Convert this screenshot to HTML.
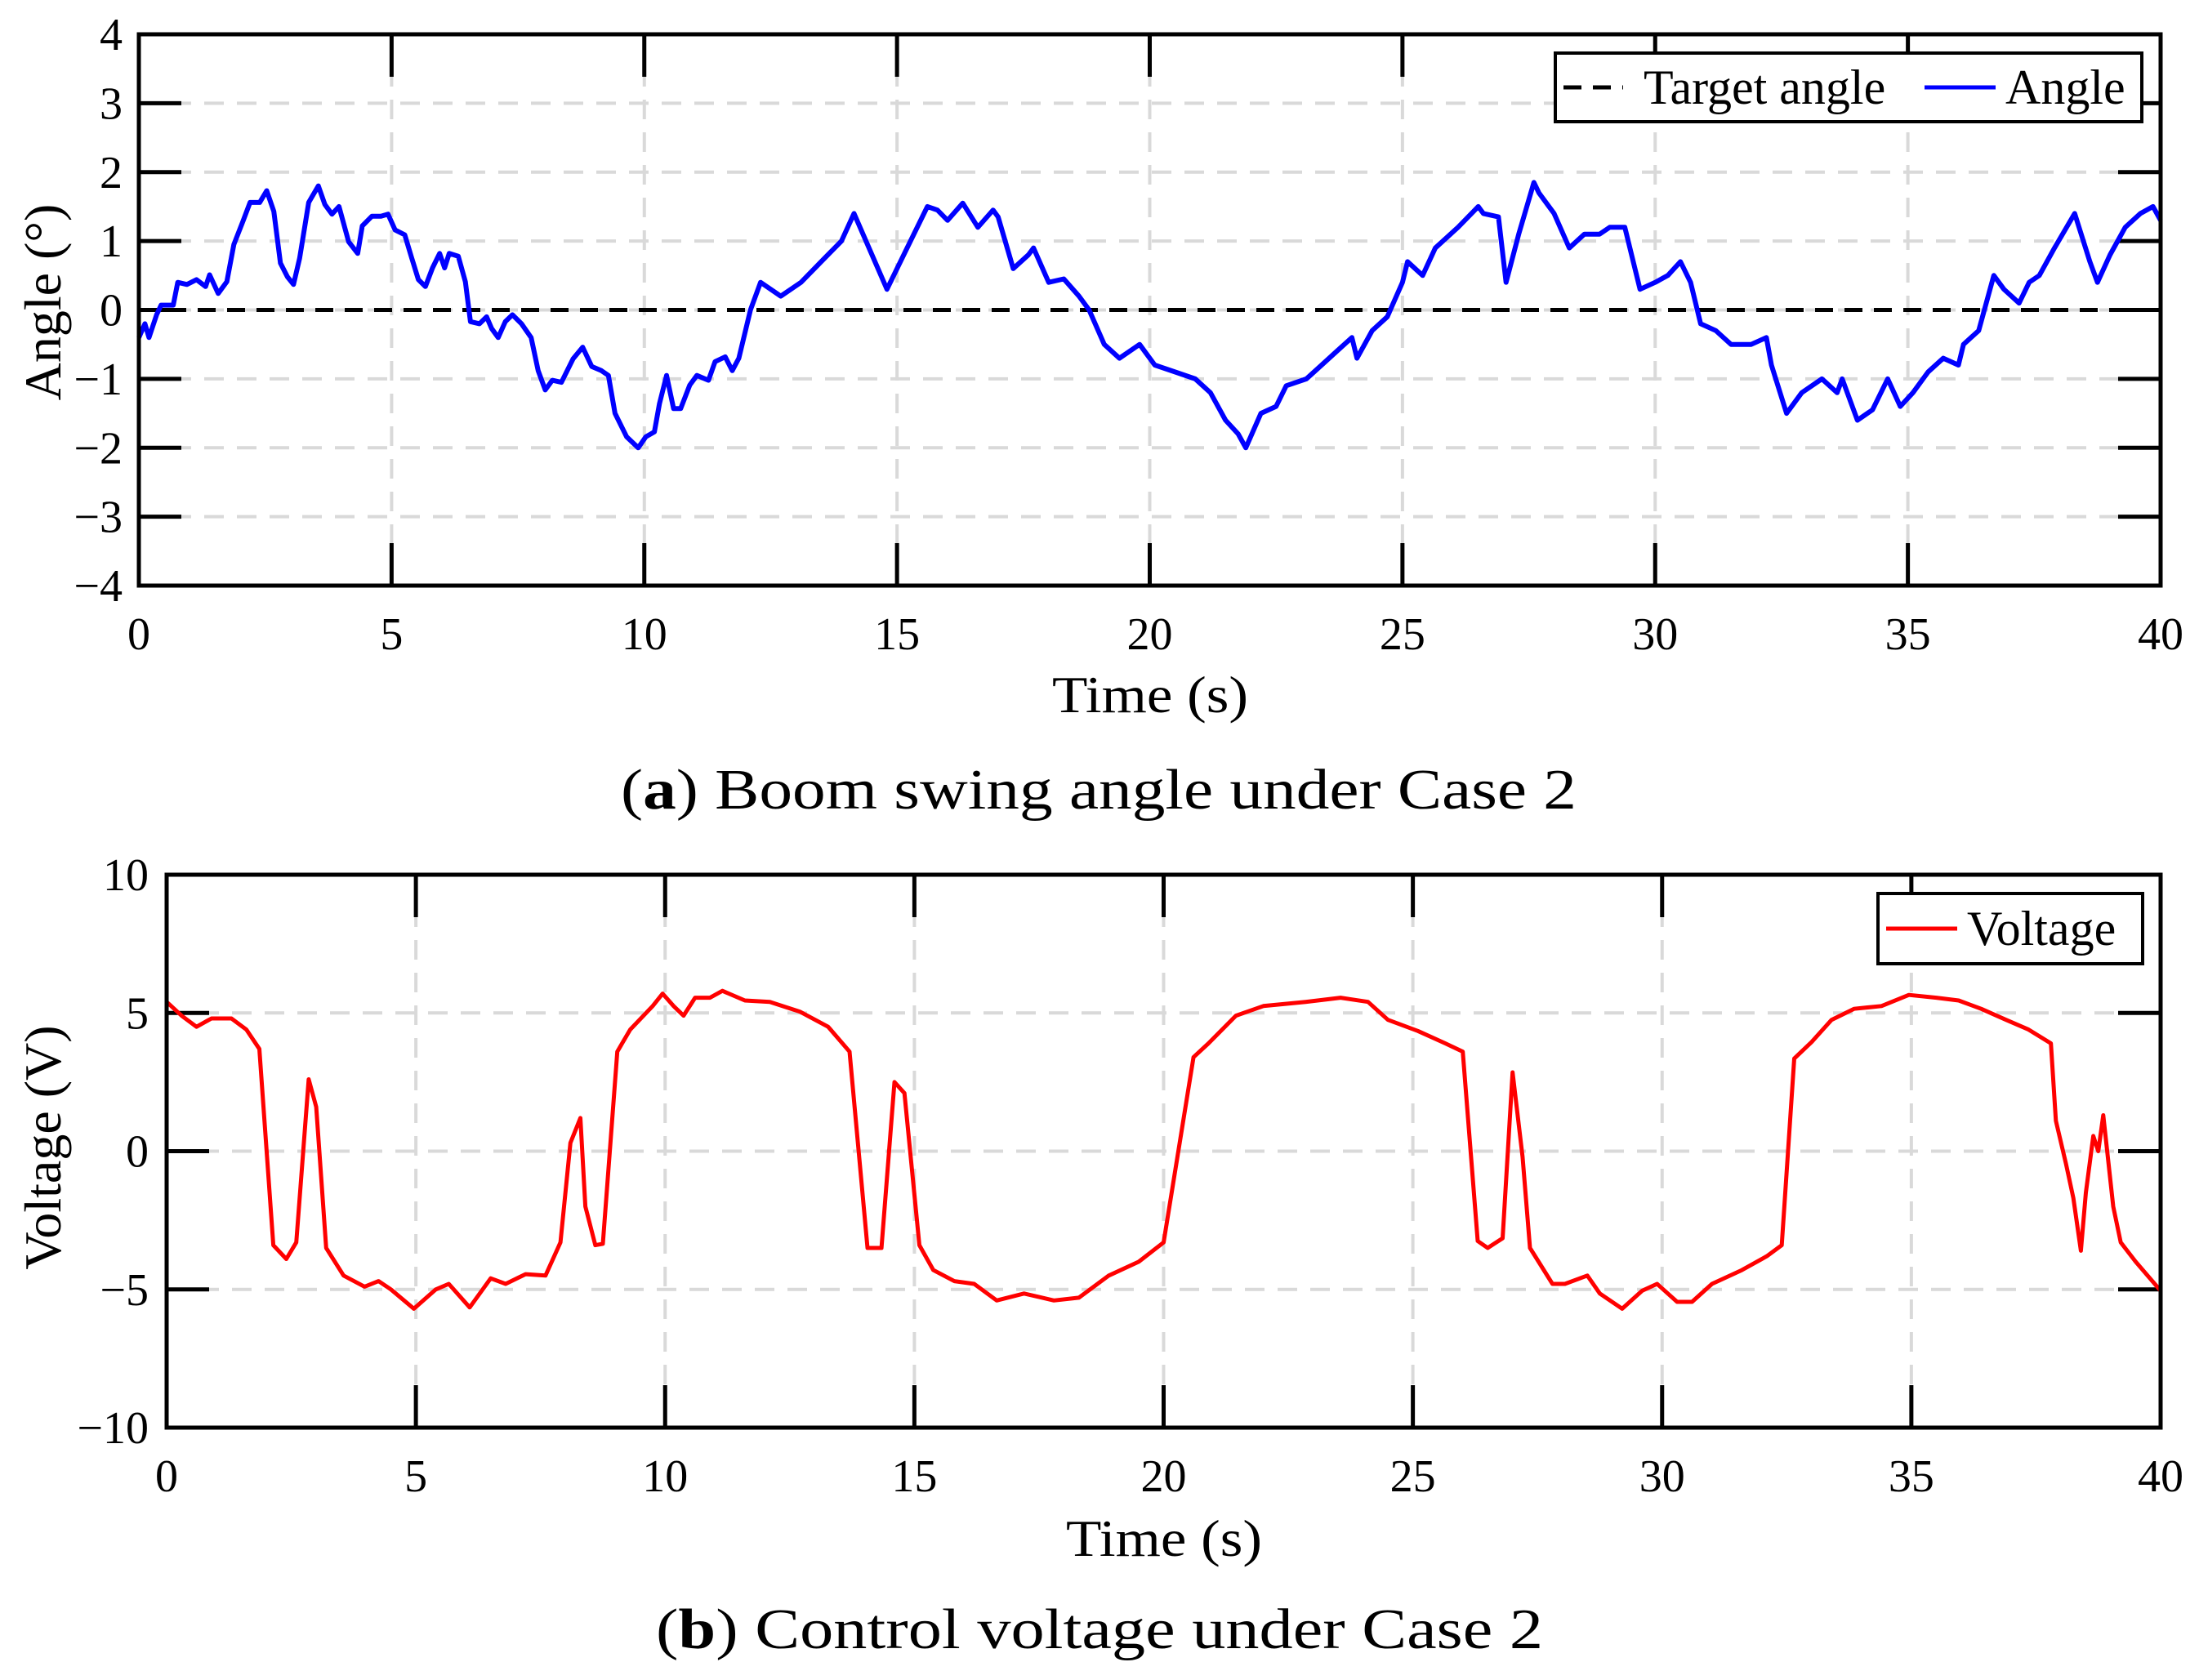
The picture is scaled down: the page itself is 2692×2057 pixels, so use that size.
<!DOCTYPE html>
<html><head><meta charset="utf-8"><style>
html,body{margin:0;padding:0;background:#fff}
svg{display:block}
text{font-family:"Liberation Serif",serif;fill:#000}
</style></head><body>
<svg id="fig" width="2692" height="2057" viewBox="0 0 2692 2057" xmlns="http://www.w3.org/2000/svg">
<rect width="2692" height="2057" fill="#fff"/>
<g id="pa"></g>
<g id="pb"></g>
<text x="1288" y="872" font-size="64" textLength="240" lengthAdjust="spacingAndGlyphs">Time (s)</text>
<text transform="translate(74,370) rotate(-90)" font-size="64" text-anchor="middle">Angle (°)</text>
<text id="capA" x="760" y="990" font-size="70" textLength="1170" lengthAdjust="spacingAndGlyphs">(<tspan font-weight="bold">a</tspan>) Boom swing angle under Case 2</text>
<text x="1305" y="1905" font-size="64" textLength="240" lengthAdjust="spacingAndGlyphs">Time (s)</text>
<text transform="translate(74,1405) rotate(-90)" font-size="64" text-anchor="middle">Voltage (V)</text>
<text id="capB" x="803" y="2018" font-size="70" textLength="1086" lengthAdjust="spacingAndGlyphs">(<tspan font-weight="bold">b</tspan>) Control voltage under Case 2</text>
</svg>
<script>
const angleT=[0,0.12,0.2,0.35,0.44,0.68,0.77,0.95,1.14,1.32,1.4,1.57,1.74,1.88,2.06,2.2,2.39,2.53,2.67,2.8,2.94,3.06,3.18,3.36,3.55,3.68,3.82,3.96,4.15,4.33,4.42,4.61,4.79,4.93,5.07,5.26,5.4,5.53,5.67,5.81,5.95,6.05,6.14,6.32,6.46,6.56,6.74,6.88,6.98,7.11,7.25,7.39,7.57,7.76,7.9,8.04,8.18,8.36,8.59,8.78,8.96,9.15,9.29,9.42,9.65,9.88,10.03,10.2,10.3,10.44,10.58,10.72,10.9,11.04,11.27,11.4,11.6,11.74,11.87,12.1,12.3,12.7,13.1,13.5,13.9,14.15,14.8,15.2,15.6,15.8,16.0,16.3,16.6,16.9,17.0,17.3,17.6,17.7,18.0,18.3,18.6,18.8,19.1,19.4,19.8,20.1,20.5,20.9,21.2,21.5,21.75,21.9,22.2,22.5,22.7,23.1,23.4,23.7,24.0,24.1,24.4,24.7,25.0,25.1,25.4,25.65,26.1,26.5,26.6,26.9,27.05,27.3,27.6,27.7,28.0,28.3,28.6,28.9,29.1,29.4,29.7,30.0,30.25,30.5,30.7,30.9,31.2,31.5,31.9,32.2,32.3,32.6,32.9,33.3,33.6,33.7,34.0,34.3,34.6,34.85,35.1,35.4,35.7,36.0,36.1,36.4,36.7,36.9,37.2,37.4,37.6,37.9,38.3,38.6,38.75,39.0,39.3,39.6,39.85,40];
const angleV=[-0.4,-0.2,-0.4,-0.07,0.07,0.07,0.4,0.37,0.44,0.34,0.51,0.24,0.41,0.95,1.29,1.56,1.56,1.73,1.43,0.68,0.48,0.37,0.75,1.56,1.8,1.53,1.39,1.5,0.99,0.82,1.22,1.36,1.36,1.39,1.16,1.09,0.75,0.44,0.34,0.61,0.82,0.61,0.82,0.78,0.41,-0.17,-0.2,-0.1,-0.27,-0.4,-0.17,-0.07,-0.2,-0.4,-0.88,-1.16,-1.02,-1.05,-0.71,-0.54,-0.82,-0.88,-0.95,-1.5,-1.84,-2.0,-1.84,-1.77,-1.36,-0.95,-1.43,-1.43,-1.09,-0.95,-1.02,-0.75,-0.68,-0.88,-0.7,0,0.4,0.2,0.4,0.7,1.0,1.4,0.3,0.9,1.5,1.45,1.3,1.55,1.2,1.45,1.35,0.6,0.8,0.9,0.4,0.45,0.2,0,-0.5,-0.7,-0.5,-0.8,-0.9,-1.0,-1.2,-1.6,-1.8,-2.0,-1.5,-1.4,-1.1,-1.0,-0.8,-0.6,-0.4,-0.7,-0.3,-0.1,0.4,0.7,0.5,0.9,1.2,1.5,1.4,1.35,0.4,1.1,1.85,1.7,1.4,0.9,1.1,1.1,1.2,1.2,0.3,0.4,0.5,0.7,0.4,-0.2,-0.3,-0.5,-0.5,-0.4,-0.8,-1.5,-1.2,-1.0,-1.2,-1.0,-1.6,-1.45,-1.0,-1.4,-1.2,-0.9,-0.7,-0.8,-0.5,-0.3,0.5,0.3,0.1,0.4,0.5,0.9,1.4,0.7,0.4,0.8,1.2,1.4,1.5,1.3];
const voltT=[0,0.3,0.6,0.9,1.3,1.6,1.86,2.14,2.4,2.6,2.85,3.0,3.2,3.55,3.97,4.25,4.5,4.96,5.4,5.66,6.08,6.5,6.8,7.2,7.6,7.9,8.1,8.3,8.4,8.6,8.75,9.04,9.3,9.75,9.95,10.17,10.37,10.6,10.9,11.15,11.6,12.1,12.7,13.27,13.7,14.06,14.34,14.6,14.8,15.1,15.38,15.8,16.2,16.65,17.2,17.8,18.3,18.9,19.5,20.0,20.6,20.9,21.45,22.0,22.85,23.55,24.1,24.5,25.1,25.65,26.0,26.3,26.5,26.8,27.0,27.2,27.35,27.8,28.05,28.5,28.75,29.2,29.6,29.9,30.3,30.6,31.0,31.6,32.1,32.4,32.65,33.0,33.4,33.85,34.4,34.95,35.5,35.95,36.4,36.9,37.35,37.8,37.9,38.1,38.25,38.4,38.5,38.65,38.75,38.85,39.05,39.2,39.5,40];
const voltV=[5.4,4.9,4.5,4.8,4.8,4.4,3.7,-3.4,-3.9,-3.3,2.6,1.6,-3.5,-4.5,-4.9,-4.7,-5.0,-5.7,-5.0,-4.8,-5.65,-4.6,-4.8,-4.45,-4.5,-3.3,0.3,1.2,-2.0,-3.4,-3.35,3.6,4.4,5.25,5.7,5.25,4.9,5.55,5.55,5.8,5.45,5.4,5.05,4.5,3.6,-3.5,-3.5,2.5,2.1,-3.4,-4.3,-4.7,-4.8,-5.4,-5.15,-5.4,-5.3,-4.5,-4.0,-3.3,3.4,3.9,4.9,5.25,5.4,5.55,5.4,4.75,4.35,3.9,3.6,-3.25,-3.5,-3.15,2.85,-0.2,-3.5,-4.8,-4.8,-4.5,-5.15,-5.7,-5.05,-4.8,-5.45,-5.45,-4.8,-4.3,-3.8,-3.4,3.35,3.95,4.75,5.15,5.25,5.65,5.55,5.45,5.15,4.75,4.4,3.9,1.1,-0.45,-1.7,-3.6,-1.5,0.55,0.0,1.3,-2.0,-3.3,-4.0,-5.05];
const xTicks=[0,5,10,15,20,25,30,35,40];
const xTickLabels=["0","5","10","15","20","25","30","35","40"];
const angleYTicks=[-4,-3,-2,-1,0,1,2,3,4];
const angleYLabels=["\u22124","\u22123","\u22122","\u22121","0","1","2","3","4"];
const voltYTicks=[-10,-5,0,5,10];
const voltYLabels=["\u221210","\u22125","0","5","10"];

const NS="http://www.w3.org/2000/svg";
function mk(parent,tag,attrs){const e=document.createElementNS(NS,tag);for(const k in attrs)e.setAttribute(k,attrs[k]);parent.appendChild(e);return e;}

function drawChart(g,box,xmin,xmax,ymin,ymax,yTicks,yLabels,yLabRight,xLabY){
  const sx=v=>box.l+(v-xmin)/(xmax-xmin)*(box.r-box.l);
  const sy=v=>box.b-(v-ymin)/(ymax-ymin)*(box.b-box.t);
  const TL=52;
  xTicks.forEach((v,i)=>{
    if(v>xmin&&v<xmax){
      const gl=mk(g,'line',{x1:sx(v),x2:sx(v),y1:box.t,y2:box.b,stroke:'#d9d9d9','stroke-width':4,'stroke-dasharray':'24 16'});
      
      
    }
    const t1=mk(g,'line',{x1:sx(v),x2:sx(v),y1:box.b,y2:box.b-TL,stroke:'#000','stroke-width':5});
    
    
    const t2=mk(g,'line',{x1:sx(v),x2:sx(v),y1:box.t,y2:box.t+TL,stroke:'#000','stroke-width':5});
    
    
    const tx=mk(g,'text',{x:sx(v),y:xLabY,'font-size':56,'text-anchor':'middle'});
    tx.textContent=xTickLabels[i];
    
    
  });
  yTicks.forEach((v,i)=>{
    if(v>ymin&&v<ymax){
      const gl=mk(g,'line',{x1:box.l,x2:box.r,y1:sy(v),y2:sy(v),stroke:'#d9d9d9','stroke-width':4,'stroke-dasharray':'24 16'});
      
      
    }
    const t1=mk(g,'line',{x1:box.l,x2:box.l+TL,y1:sy(v),y2:sy(v),stroke:'#000','stroke-width':5});
    
    
    const t2=mk(g,'line',{x1:box.r,x2:box.r-TL,y1:sy(v),y2:sy(v),stroke:'#000','stroke-width':5});
    
    
    const tx=mk(g,'text',{x:yLabRight,y:sy(v)+19,'font-size':56,'text-anchor':'end'});
    tx.textContent=yLabels[i];
    
    
  });
  return {sx,sy};
}
function frame(g,box){
  const f=mk(g,'rect',{x:box.l,y:box.t,width:box.r-box.l,height:box.b-box.t,fill:'none',stroke:'#000','stroke-width':5});
  
  
}
function pathFrom(xs,ys,sx,sy){return xs.map((t,i)=>(i?'L':'M')+sx(t).toFixed(1)+' '+sy(ys[i]).toFixed(1)).join(' ');}

// Chart A
const ga=document.getElementById('pa');
const boxA={l:170,r:2645,t:42,b:717};
const A=drawChart(ga,boxA,0,40,-4,4,angleYTicks,angleYLabels,150,795);
const tgt=mk(ga,'line',{x1:A.sx(0),x2:A.sx(40),y1:A.sy(0),y2:A.sy(0),stroke:'#000','stroke-width':5,'stroke-dasharray':'22 14'});


const al=mk(ga,'path',{d:pathFrom(angleT,angleV,A.sx,A.sy),fill:'none',stroke:'#0000ff','stroke-width':6,'stroke-linejoin':'round'});


frame(ga,boxA);
const lgA=mk(ga,'g',{});


mk(lgA,'rect',{x:1904,y:65,width:718,height:84,fill:'#fff',stroke:'#000','stroke-width':4});
mk(lgA,'line',{x1:1914,x2:1987,y1:107,y2:107,stroke:'#000','stroke-width':5,'stroke-dasharray':'22 14'});
const la1=mk(lgA,'text',{x:2012,y:127,'font-size':60});la1.textContent='Target angle';


mk(lgA,'line',{x1:2356,x2:2443,y1:107,y2:107,stroke:'#0000ff','stroke-width':5});
const la2=mk(lgA,'text',{x:2455,y:127,'font-size':60});la2.textContent='Angle';



// Chart B
const gb=document.getElementById('pb');
const boxB={l:204,r:2645,t:1071,b:1748};
const B=drawChart(gb,boxB,0,40,-10,10,voltYTicks,voltYLabels,182,1826);
const vl=mk(gb,'path',{d:pathFrom(voltT,voltV,B.sx,B.sy),fill:'none',stroke:'#ff0000','stroke-width':5,'stroke-linejoin':'round'});


frame(gb,boxB);
const lgB=mk(gb,'g',{});


mk(lgB,'rect',{x:2299,y:1094,width:324,height:86,fill:'#fff',stroke:'#000','stroke-width':4});
mk(lgB,'line',{x1:2309,x2:2396,y1:1137,y2:1137,stroke:'#ff0000','stroke-width':5});
const lb1=mk(lgB,'text',{x:2408,y:1157,'font-size':60});lb1.textContent='Voltage';


</script>
</body></html>
